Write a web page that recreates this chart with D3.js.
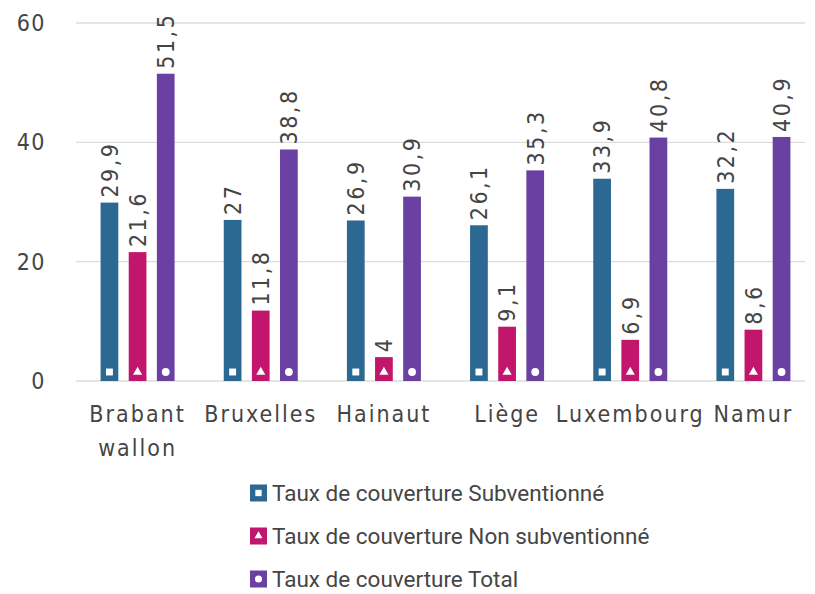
<!DOCTYPE html>
<html>
<head>
  <meta charset="UTF-8">
  <title>Taux de couverture</title>
  <script src="https://cdn.jsdelivr.net/npm/d3@7"></script>
  <style>
    body { margin: 0; background: #fff; }
    text { font-family: "DejaVu Sans Condensed", "Roboto", sans-serif; fill: #454545; }
  </style>
</head>
<body>
<svg id="svg" width="815" height="594"></svg>
<script>
// data
var provinces = ["Brabant wallon", "Bruxelles", "Hainaut", "Liège", "Luxembourg", "Namur"];
var series = ["Taux de couverture Subventionné", "Taux de couverture Non subventionné", "Taux de couverture Total"];
var subventionne = [29.9, 27, 26.9, 26.1, 33.9, 32.2];
var nonSubventionne = [21.6, 11.8, 4, 9.1, 6.9, 8.6];
var total = [51.5, 38.8, 30.9, 35.3, 40.8, 40.9];
var yTicks = [0, 20, 40, 60];

var colors = ["#2b6892", "#c2166d", "#6a40a3"];
var markers = ["square", "triangle", "circle"];
var values = [subventionne, nonSubventionne, total];

var svg = d3.select('#svg');

var x = d3.scaleBand().domain(provinces).range([76, 815]);
var xi = d3.scaleBand().domain(series).range([-37, 37]).paddingInner(0.37);
var y = d3.scaleLinear().domain([0, 60]).range([381, 23]);

// grid
svg.append('g').selectAll('line')
  .data(yTicks)
  .join('line')
    .attr('x1', 76)
    .attr('x2', 805)
    .attr('y1', function(d){ return y(d); })
    .attr('y2', function(d){ return y(d); })
    .style('stroke', '#dcdcdc')
    .style('stroke-width', 1.3);

svg.append('g').selectAll('text')
  .data(yTicks)
  .join('text')
    .attr('x', 46)
    .attr('y', function(d){ return y(d); })
    .attr('dy', '0.35em')
    .attr('text-anchor', 'end')
    .style('font-size', '23px')
    .style('letter-spacing', '1.5px')
    .text(function(d){ return d; });

var symbolFor = function(m, size) {
  var t = m == 'square' ? d3.symbolSquare : (m == 'triangle' ? d3.symbolTriangle : d3.symbolCircle);
  return d3.symbol().type(t).size(size)();
};

// bars
series.forEach(function(s, si) {
  var g = svg.append('g');
  var rows = provinces.map(function(p, i){ return {p: p, v: values[si][i]}; });
  var cx = function(d){ return x(d.p) + x.bandwidth() / 2 + xi(s); };

  g.selectAll('rect')
    .data(rows)
    .join('rect')
      .attr('x', cx)
      .attr('y', function(d){ return y(d.v); })
      .attr('width', xi.bandwidth())
      .attr('height', function(d){ return y(0) - y(d.v); })
      .style('fill', colors[si]);

  g.selectAll('path')
    .data(rows)
    .join('path')
      .attr('d', symbolFor(markers[si], si == 1 ? 36 : 48))
      .attr('transform', function(d){ return 'translate(' + (cx(d) + xi.bandwidth() / 2) + ',' + (y(0) - 9) + ')'; })
      .style('fill', '#fff');

  g.selectAll('text')
    .data(rows)
    .join('text')
      .attr('transform', function(d){ return 'translate(' + (cx(d) + xi.bandwidth() / 2) + ',' + (y(d.v) - 5) + ')rotate(-90)'; })
      .attr('dy', '0.36em')
      .style('font-size', '23px')
      .style('letter-spacing', '2.5px')
      .text(function(d){ return String(d.v).replace('.', ','); });
});

// category labels
var cat = svg.append('g').selectAll('text')
  .data(provinces)
  .join('text')
    .attr('x', function(d){ return x(d) + x.bandwidth() / 2; })
    .attr('y', 422)
    .attr('text-anchor', 'middle')
    .style('font-size', '23px')
    .style('letter-spacing', '2px');

cat.each(function(d) {
  var words = d == 'Brabant wallon' ? ['Brabant', 'wallon'] : [d];
  var t = d3.select(this);
  words.forEach(function(w, i) {
    t.append('tspan')
      .attr('x', x(d) + x.bandwidth() / 2)
      .attr('dy', i == 0 ? 0 : 34)
      .text(w);
  });
});

// legend
var leg = svg.append('g').selectAll('g')
  .data(series)
  .join('g')
    .attr('transform', function(d, i){ return 'translate(250,' + (493 + i * 43) + ')'; });

leg.append('rect')
  .attr('x', 0)
  .attr('y', -8.5)
  .attr('width', 17)
  .attr('height', 17)
  .style('fill', function(d, i){ return colors[i]; });

leg.append('path')
  .attr('d', function(d, i){ return symbolFor(markers[i], i == 1 ? 28 : 40); })
  .attr('transform', 'translate(8.5,0)')
  .style('fill', '#fff');

leg.append('text')
  .attr('x', 22)
  .attr('dy', '0.34em')
  .style('font-family', 'Roboto, sans-serif')
  .style('font-size', '22.5px')
  .text(function(d){ return d; });
</script>
</body>
</html>
